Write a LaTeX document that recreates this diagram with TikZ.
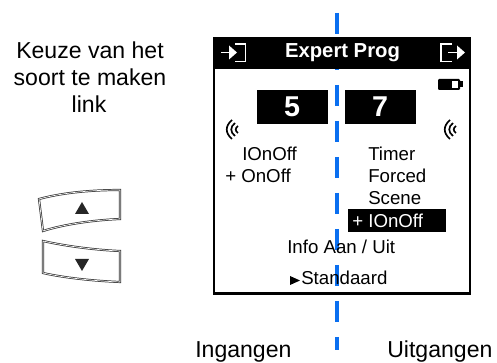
\documentclass[tikz,border=0pt]{standalone}
\usepackage{fontspec}
\setmainfont{Liberation Sans}
\usetikzlibrary{positioning}
\definecolor{axisblue}{HTML}{0A6FF0}
\tikzset{
    lbl/.style={inner sep=0pt, anchor=base west, font=\fontsize{14}{14}\selectfont},
    lblw/.style={lbl, text=white},
    side/.style={inner sep=0pt, anchor=base, font=\fontsize{17.3}{17.3}\selectfont},
    big/.style={inner sep=0pt, anchor=base, text=white, font=\fontsize{21.5}{21.5}\selectfont\bfseries},
    key/.style={draw=black!80, double=white, double distance=0.5pt, line width=0.55pt},
    wave/.style={line width=1.25pt}
}
\begin{document}
\begin{tikzpicture}[x=0.75pt, y=-0.75pt]
        \useasboundingbox (0,0) rectangle (497,363);

        % centre line
        \draw[axisblue, line width=2.3pt, dash pattern=on 15.75pt off 11.25pt] (337,13) -- (337,350);

        % screen
        \draw[line width=1.6pt] (214,38) rectangle (470,293.5);
        \fill[black] (213,37) rectangle (471,69);
        \node[inner sep=0pt, anchor=base, text=white, font=\fontsize{15.2}{15.2}\selectfont\bfseries] (title) at (342.5,58) {Expert Prog};

        % header icons
        \draw[white, line width=0.8pt] (235,44) -- (245.5,44) -- (245.5,61.5) -- (235,61.5);
        \draw[white, line width=1.4pt] (221,52.5) -- (232,52.5);
        \fill[white] (229,45.5) -- (237,52.5) -- (229,59.5) -- cycle;
        \draw[white, line width=0.8pt] (452,44) -- (441,44) -- (441,61.5) -- (452,61.5);
        \draw[white, line width=1.4pt] (448,52.5) -- (459,52.5);
        \fill[white] (457,45.5) -- (465,52.5) -- (457,59.5) -- cycle;

        % battery
        \fill[black, rounded corners=0.8pt] (438,79) rectangle (460,90);
        \fill[black] (460,81.5) rectangle (463,87.5);
        \fill[white] (452,81) rectangle (458,88);

        % number boxes
        \fill[black] (257,90) rectangle (328,124);
        \fill[black] (345,90) rectangle (416,124);
        \node[big] (inval) at (292,116.5) {5};
        \node[big] (outval) at (380,116.5) {7};

        % signal marks
        \draw[wave] (232,120) .. controls (225,126) and (225,133) .. (232,139);
        \draw[wave] (235,123) .. controls (230,127) and (230,132) .. (235,136);
        \draw[wave] (238,126) .. controls (235,128) and (235,131) .. (238,133);
        \draw[wave] (450,120) .. controls (443,126) and (443,133) .. (450,139);
        \draw[wave] (453,123) .. controls (448,127) and (448,132) .. (453,136);
        \draw[wave] (456,126) .. controls (453,128) and (453,131) .. (456,133);

        % lists
        \node[lbl] (in1) at (242,161) {IOnOff};
        \node[lbl] (in2) at (225,183) {+ OnOff};
        \node[lbl] (out1) at (368,161) {Timer};
        \node[lbl] (out2) at (368,183) {Forced};
        \node[lbl] (out3) at (368,205) {Scene};
        \fill[black] (348,209) rectangle (446,232);
        \node[lblw] (out4) at (352,228) {+ IOnOff};
        \node[lbl] (info) at (287,254) {Info Aan / Uit};
        \fill[black] (290,276) -- (300,280.5) -- (290,285) -- cycle;
        \node[lbl] (std) at (301,285) {Standaard};

        % side text
        \node[side] (k1) at (90,59) {Keuze van het};
        \node[side] (k2) at (90,86) {soort te maken};
        \node[side] (k3) at (89,113) {link};
        \node[side, anchor=base west] (ing) at (195,358) {Ingangen};
        \node[side, anchor=base west] (uit) at (387,358) {Uitgangen};

        % keys
        \draw[key] (39,199) .. controls (65,192) and (95,190) .. (120,190) -- (120,219)
            .. controls (95,220) and (65,224) .. (43,231) -- cycle;
        \fill[black!85] (82,202) -- (89,214) -- (75,214) -- cycle;
        \draw[key] (43,241) .. controls (65,246) and (95,250) .. (120,251) -- (120,282)
            .. controls (95,281) and (65,278) .. (43,273) -- cycle;
        \fill[black!85] (75,259) -- (89,259) -- (82,271) -- cycle;
    \end{tikzpicture}
\end{document}
